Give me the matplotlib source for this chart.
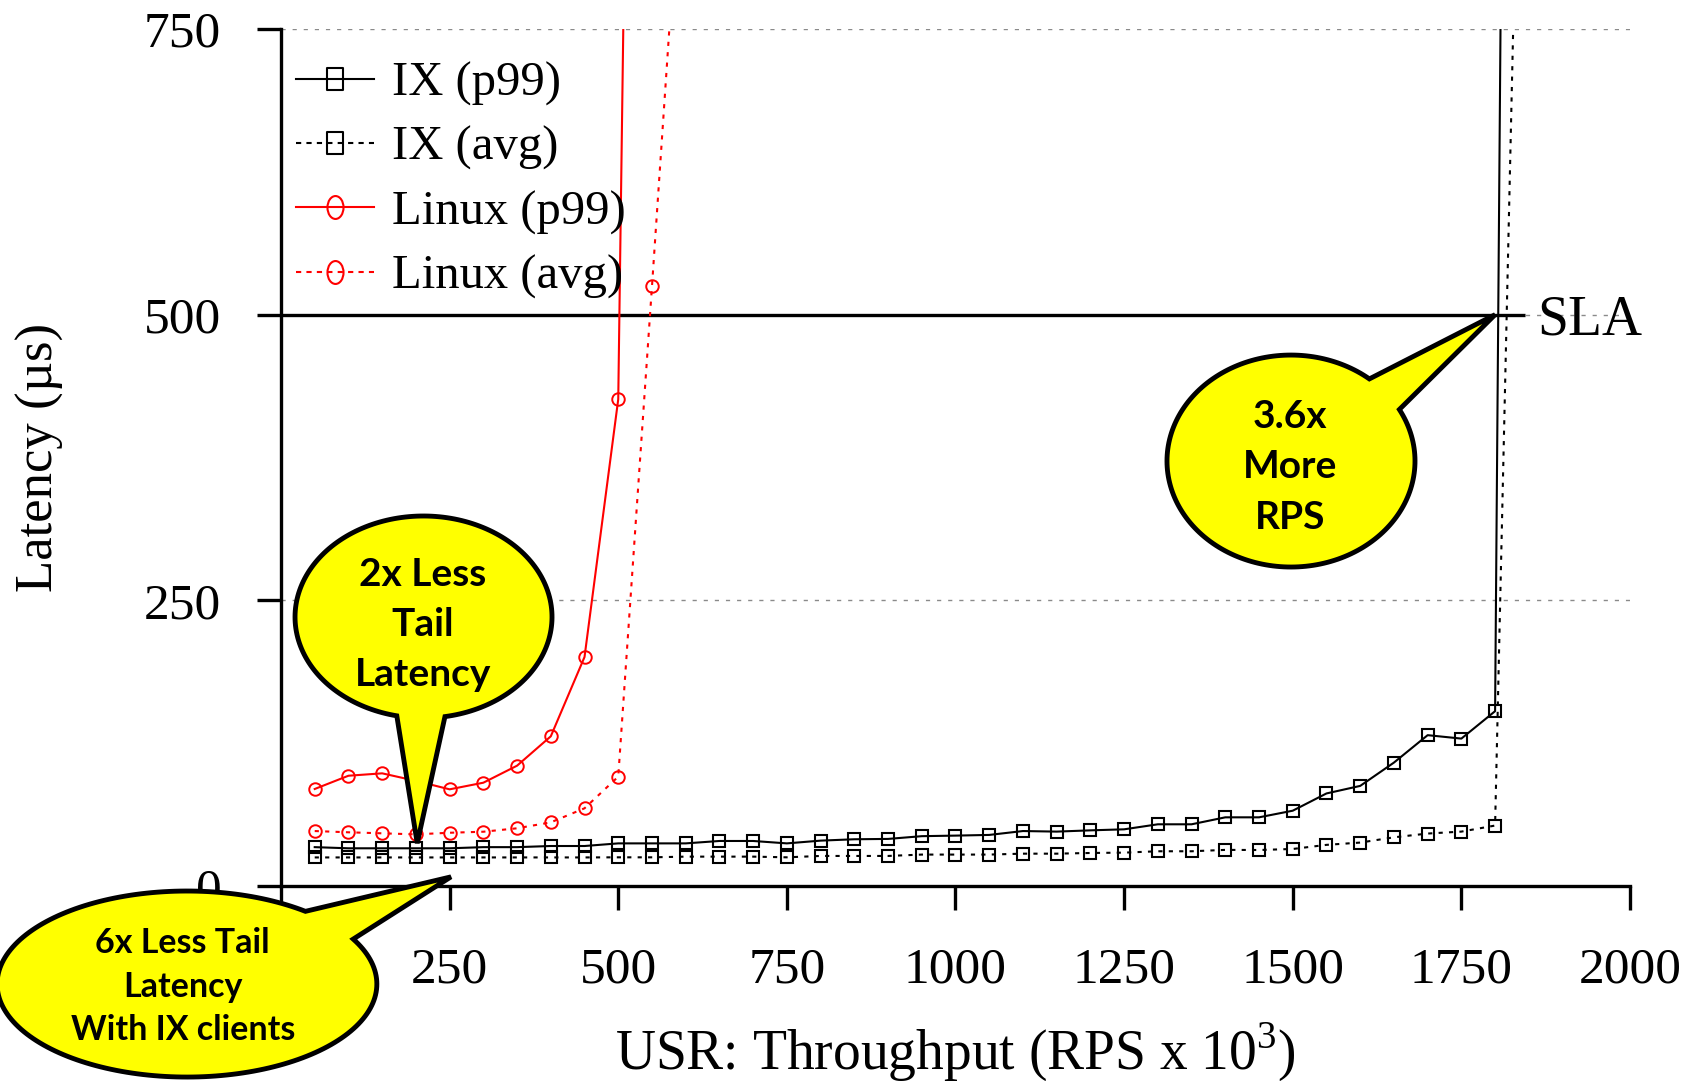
import numpy as np
import matplotlib
matplotlib.use("Agg")
import matplotlib.pyplot as plt
from matplotlib.lines import Line2D
from matplotlib.patches import Polygon
from matplotlib.path import Path
from matplotlib.transforms import Affine2D

############################################################
# Data
############################################################

ix_x = [50, 100, 150, 200, 250, 300, 350, 400, 450, 500,
        550, 600, 650, 700, 750, 800, 850, 900, 950, 1000,
        1050, 1100, 1150, 1200, 1250, 1300, 1350, 1400, 1450, 1500,
        1550, 1600, 1650, 1700, 1750, 1800, 1850]

ix_p99 = [34, 33, 33, 33, 33, 34, 34, 35, 35, 37.3,
          37.3, 37.3, 39.4, 39.4, 37.3, 39.7, 40.9, 41.2, 43.6, 44.1,
          44.7, 48.1, 47.6, 48.7, 49.6, 54.0, 54.0, 60.1, 60.1, 65.9,
          81, 87.6, 108, 132, 129, 153, 3880]

ix_avg = [25, 25, 25, 25, 25, 25, 25, 25, 25, 25.1,
          25.1, 25.7, 25.7, 25.7, 25.1, 26.3, 26.3, 26.3, 27.5, 27.5,
          27.5, 28.3, 28.3, 28.9, 29.2, 30.4, 30.4, 31.6, 31.5, 32.4,
          36, 38, 42.6, 45.9, 47.6, 52.9, 1353]

linux_p99_x = [50, 100, 150, 200, 250, 300, 350, 400, 450, 500, 550]
linux_p99 = [84.9, 96.5, 98.6, 92, 84.6, 90.4, 105.3, 131, 200.4, 426, 2600]

linux_avg_x = [50, 100, 150, 200, 250, 300, 350, 400, 450, 500, 550, 600]
linux_avg = [48.1, 47, 46.1, 45.2, 46.6, 47.5, 50.5, 55.7, 68, 95.7, 524.7, 962]

sla_value = 500
sla_end = 1845

x_ticks = [0, 250, 500, 750, 1000, 1250, 1500, 1750, 2000]
# the "0" under the bottom-left balloon is covered in the original
x_tick_labels = ["", "250", "500", "750", "1000", "1250", "1500", "1750", "2000"]
y_ticks = [0, 250, 500, 750]

############################################################
# Style
############################################################

plt.rcParams["font.family"] = ["Liberation Serif", "DejaVu Serif"]
plt.rcParams["mathtext.fontset"] = "custom"
plt.rcParams["mathtext.rm"] = "Liberation Serif"

RED = "#FF0000"
YELLOW = "#FFFF00"
BALLOON_FONT = ["Lato", "DejaVu Sans"]

fig = plt.figure(figsize=(16.95, 10.81), dpi=100)
ax = fig.add_axes([0.16578, 0.18039, 0.79587, 0.79278])

dotted = (0, (2, 3))

ax.plot(ix_x, ix_p99, color="black", lw=1.5, marker="s", ms=8.5,
        mfc="none", mec="black", mew=1.5, zorder=4)
ax.plot(ix_x, ix_avg, color="black", lw=1.5, ls=dotted, marker="s", ms=8.5,
        mfc="none", mec="black", mew=1.5, zorder=4)
ax.plot(linux_p99_x, linux_p99, color=RED, lw=1.5, marker="o", ms=9,
        mfc="none", mec=RED, mew=1.4, zorder=4)
ax.plot(linux_avg_x, linux_avg, color=RED, lw=1.5, ls=dotted, marker="o", ms=9,
        mfc="none", mec=RED, mew=1.4, zorder=4)

# SLA line
ax.hlines(sla_value, 0, sla_end, color="black", lw=2.4, zorder=3)
ax.text(1862, sla_value, "SLA", fontsize=40, ha="left", va="center_baseline")

############################################################
# Axes
############################################################

ax.set_xlim(0, 2000)
ax.set_ylim(0, 750)
ax.set_xticks(x_ticks)
ax.set_xticklabels(x_tick_labels)
ax.set_yticks(y_ticks)

for side in ["top", "right"]:
    ax.spines[side].set_visible(False)
for side in ["left", "bottom"]:
    ax.spines[side].set_linewidth(2.4)

ax.yaxis.grid(True, color="#8a8a8a", lw=1.0, ls=(0, (3, 5)))
ax.set_axisbelow(True)

ax.tick_params(axis="y", direction="out", length=17, width=2.4, pad=26,
               labelsize=37)
ax.tick_params(axis="x", direction="out", length=17, width=2.4, pad=27,
               labelsize=37)

ax.set_xlabel("USR: Throughput (RPS x 10$^{3}$)", fontsize=40)
ax.xaxis.set_label_coords(0.5, -0.157)
ax.set_ylabel("Latency (\u00b5s)", fontsize=38)
ax.yaxis.set_label_coords(-0.161, 0.5)

############################################################
# Legend
############################################################

sq_marker = Path.unit_rectangle().transformed(
    Affine2D().translate(-0.5, -0.5).scale(0.77, 1.0))
el_marker = Path.unit_circle().transformed(Affine2D().scale(0.7, 1.0))
leg_dash = (0, (2.5, 2.5))

handles = [
    Line2D([], [], color="black", lw=1.5, marker=sq_marker, ms=15.3,
           mfc="none", mec="black", mew=1.5),
    Line2D([], [], color="black", lw=1.5, ls=leg_dash, marker=sq_marker,
           ms=15.3, mfc="none", mec="black", mew=1.5),
    Line2D([], [], color=RED, lw=1.5, marker=el_marker, ms=16.5,
           mfc="none", mec=RED, mew=1.5),
    Line2D([], [], color=RED, lw=1.5, ls=leg_dash, marker=el_marker,
           ms=16.5, mfc="none", mec=RED, mew=1.5),
]
labels = ["IX (p99)", "IX (avg)", "Linux (p99)", "Linux (avg)"]

ax.legend(handles, labels, loc="upper left", bbox_to_anchor=(0.0109, 0.962),
          frameon=False, fontsize=35, borderpad=0, borderaxespad=0,
          handlelength=1.62, handletextpad=0.37, labelspacing=0.41)

############################################################
# Callout balloons (drawn on top of everything)
############################################################


def balloon(cx, cy, w, h, t1, t2, tip):
    # ellipse outline skipping the arc [t1, t2] where the tail joins
    angles = np.radians(np.linspace(t2, t1 + 360, 200))
    xs = cx + w / 2 * np.cos(angles)
    ys = cy + h / 2 * np.sin(angles)
    verts = np.column_stack([xs, ys]).tolist()
    verts.append(list(tip))
    patch = Polygon(verts, closed=True, facecolor=YELLOW, edgecolor="black",
                    lw=3.5, joinstyle="miter", transform=ax.transData,
                    zorder=10, clip_on=False)
    fig.add_artist(patch)


def balloon_text(x, y, s, size, spacing):
    fig.text(x, y, s, transform=ax.transData, ha="center", va="center",
             fontsize=size, fontweight="bold", family=BALLOON_FONT,
             linespacing=spacing, zorder=11)


# "2x Less Tail Latency"
balloon(211.3, 235.4, 381, 176.8, -102, -80.4, (202, 37.4))
balloon_text(210.5, 229, "2x Less\nTail\nLatency", 28, 1.52)

# "3.6x More RPS"
balloon(1497.4, 371.9, 367.7, 185.5, 29.1, 50.8, (1800, sla_value))
balloon_text(1496, 366.9, "3.6x\nMore\nRPS", 28, 1.53)

# "6x Less Tail Latency With IX clients"
balloon(-139.4, -85.8, 563, 162.8, 28.9, 51.4, (252, 8))
balloon_text(-145.7, -88, "6x Less Tail\nLatency\nWith IX clients", 24.5, 1.44)

fig.savefig("out.png", dpi=100)
